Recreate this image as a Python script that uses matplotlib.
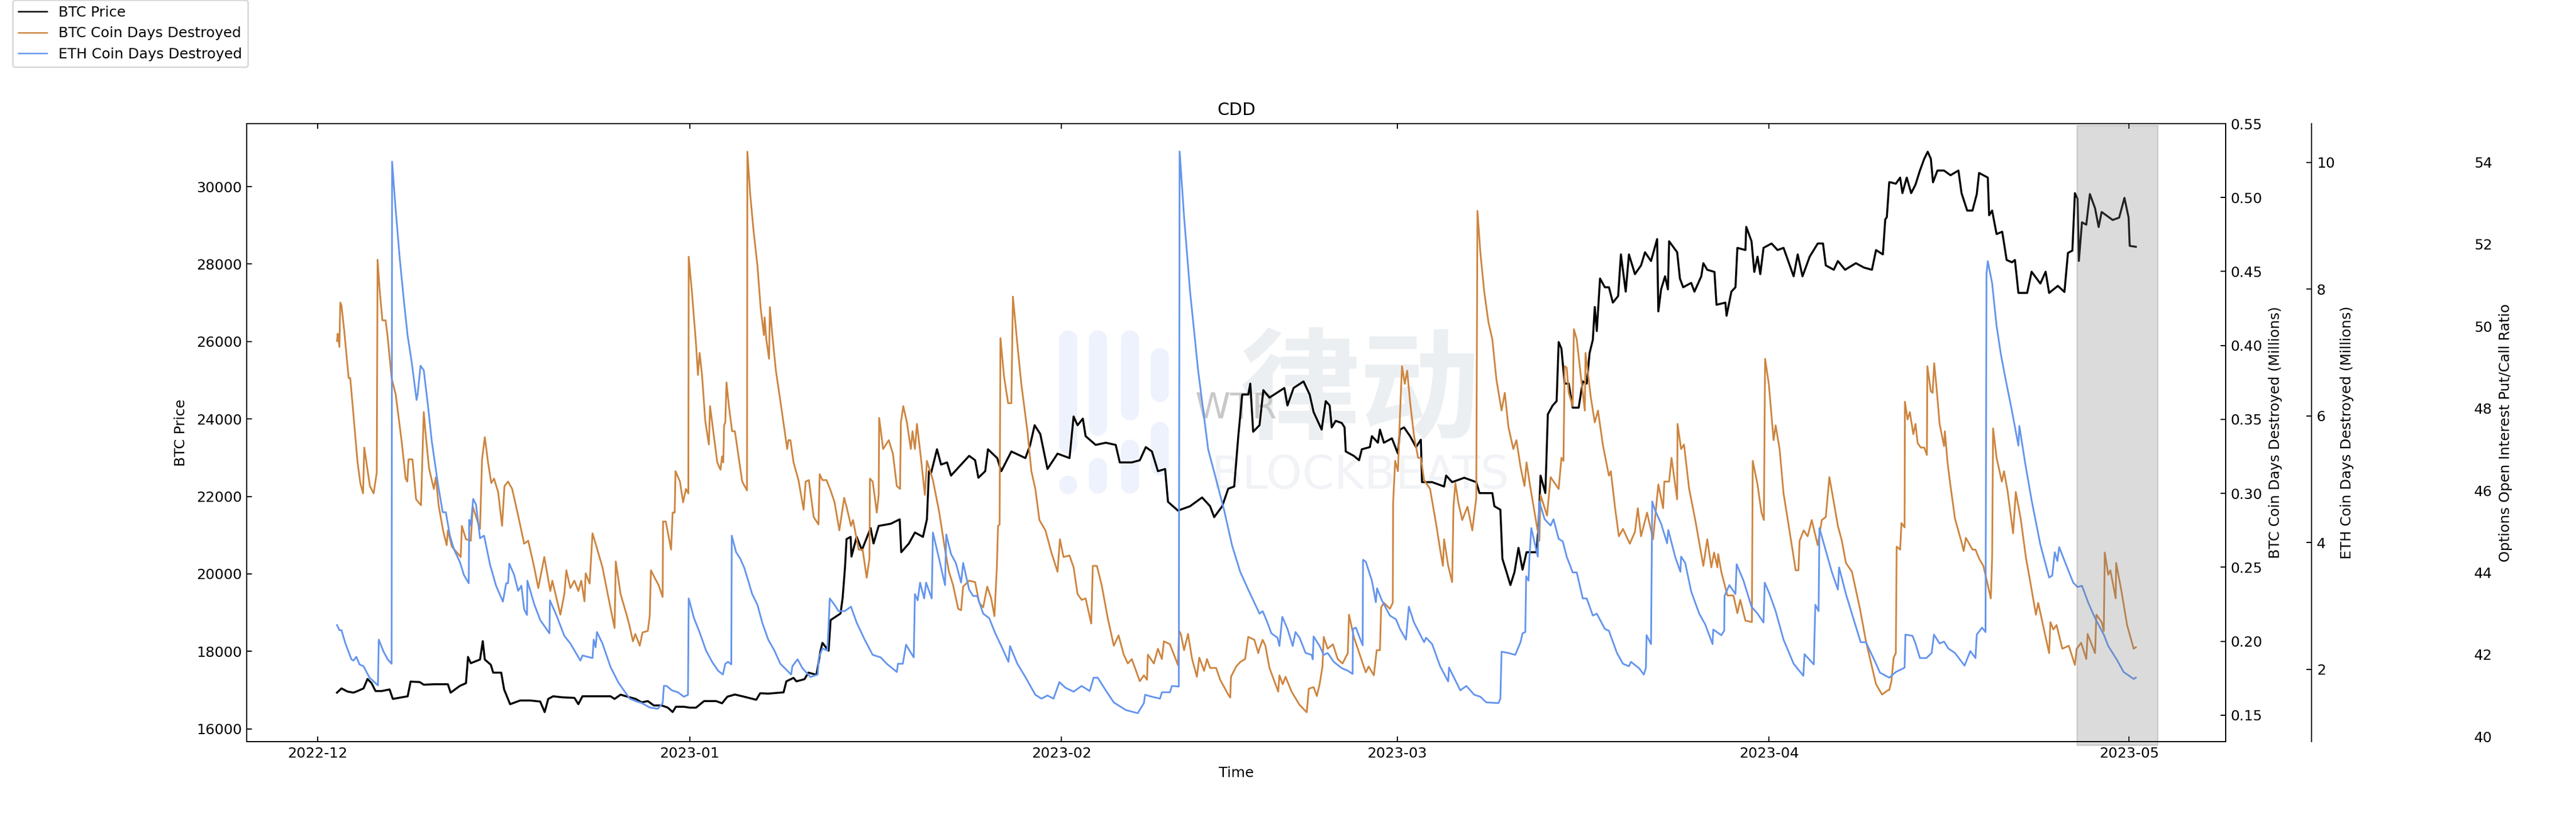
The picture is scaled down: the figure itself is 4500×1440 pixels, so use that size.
import pandas as pd
import matplotlib
matplotlib.use('Agg')
import matplotlib.pyplot as plt
import matplotlib.dates as mdates
from matplotlib.lines import Line2D

# all x values are days counted from 2022-12-01
price_days = [
    1.61, 1.98, 2.48, 2.98, 3.32, 3.82, 4.15, 4.49, 4.82, 5.33,
    5.99, 6.26, 7.0, 7.5, 7.74, 8.51, 8.84, 9.68, 10.85, 11.08,
    11.86, 12.36, 12.53, 12.76, 13.53, 13.76, 13.93, 14.43, 14.63, 15.3,
    15.54, 15.77, 16.04, 16.88, 17.72, 18.55, 18.92, 19.22, 19.63, 20.4,
    21.4, 21.73, 22.07, 23.07, 24.41, 24.75, 25.25, 26.02,
    26.51, 27.01, 27.52, 28.02, 28.69, 29.19, 29.59, 29.86, 30.53, 31.03,
    31.54, 32.21, 33.21, 33.71, 34.15, 34.78, 35.55, 36.56, 36.89, 37.56,
    38.84, 39.07, 39.67, 39.91, 40.58, 40.91, 41.58, 41.92, 42.08, 42.59,
    42.76, 43.59, 43.76, 43.96, 44.09, 44.43, 44.5, 44.93, 45.37, 46.1,
    46.34, 46.77, 47.78, 48.52, 48.65, 49.29, 49.79, 50.46, 50.79, 50.96,
    51.13, 51.63, 51.97, 52.47, 52.8, 53.81, 54.31, 54.81, 55.08, 55.65,
    55.88, 56.65, 56.99, 57.83, 59.0, 59.4, 59.77, 60.24, 60.84, 61.68,
    62.68, 63.02, 63.35, 63.79, 64.02, 64.86, 65.7, 66.53, 66.87, 67.37,
    67.87, 68.54, 69.04, 69.55, 70.05, 70.65, 70.89, 71.72, 72.73, 73.73,
    74.4, 74.74, 75.41, 75.91, 76.41, 76.75, 77.08, 77.58, 77.75, 77.99,
    78.52,
    78.84, 79.35, 80.02, 80.59, 80.85, 81.36, 82.19, 82.70, 83.03,
    83.7, 84.04, 84.37, 84.54, 84.87, 85.38, 85.61, 85.71, 86.38, 86.82,
    87.05, 87.72, 87.89, 88.39, 88.56, 88.89, 89.56, 90.06, 90.23, 90.57,
    91.07, 91.57, 91.97, 92.07, 92.91, 93.91, 94.08, 94.58, 95.59, 96.59,
    96.86, 97.93, 98.1, 98.6, 98.77, 99.11, 99.44, 99.78, 100.11, 100.45,
    100.78, 101.62, 101.79, 101.95, 102.35, 102.56, 102.96, 103.29, 103.46, 103.69,
    103.96, 104.3, 104.63, 105.13, 105.47, 105.8, 106.04, 106.31, 106.47, 106.64,
    106.91, 107.31, 107.65, 107.98, 108.42, 108.65, 109.05, 109.32, 109.82, 110.33,
    110.66, 111.16, 111.67, 111.77, 112.0, 112.33, 112.57, 112.67, 113.34, 113.57,
    113.84, 114.51, 114.78, 115.35, 115.52, 115.85, 116.45, 116.62, 117.36, 117.46,
    117.86, 118.2, 118.36, 119.03, 119.1, 119.54, 119.77, 120.04, 120.27, 120.54,
    121.21, 121.71, 122.21, 123.05, 123.39, 123.79, 124.39, 125.06, 125.5, 125.73,
    126.4, 126.74, 127.34, 128.24, 128.91, 129.58, 129.92, 130.49, 130.69, 130.82,
    131.02,
    131.13, 131.57, 131.93, 132.12, 132.48, 132.85, 133.21, 133.58, 133.94, 134.23,
    134.49, 134.67, 135.04, 135.59, 136.13, 136.79, 137.05, 137.52, 137.96, 138.32,
    138.51, 139.24, 139.35, 139.6, 139.97, 140.44, 140.81, 141.25, 141.5, 141.79,
    142.52, 142.89, 143.62, 144.06, 144.35, 145.08, 145.63, 145.92, 146.29, 146.5,
    146.72, 146.83, 147.09, 147.45, 147.75, 148.18, 148.48, 148.73, 149.65, 150.19,
    150.63, 150.98, 151.07, 151.58,
]
price_vals = [
    16936, 17045, 16964, 16936, 16977, 17045, 17289, 17180, 16977, 16977,
    17018, 16774, 16815, 16842, 17221, 17208, 17140, 17153, 17153, 16936,
    17112, 17180, 17858, 17696, 17791, 18266, 17791, 17655, 17452, 17452,
    17018, 16842, 16638, 16733, 16733, 16706, 16434, 16774, 16842, 16815,
    16801, 16638, 16842, 16842, 16842, 16774, 16883, 16815,
    16774, 16684, 16718, 16605, 16605, 16548, 16435, 16571, 16571, 16548,
    16548, 16718, 16718, 16661, 16831, 16887, 16831, 16752, 16921, 16910,
    16944, 17227, 17317, 17227, 17283, 17453, 17396, 18018, 18221, 18018,
    18809, 18979, 19374, 20166, 20900, 20957, 20448, 20957, 20618, 21183,
    20787, 21240, 21296, 21409, 20561, 20787, 21070, 20957, 21409, 22652,
    22596, 23218, 22822, 22879, 22539, 22879, 23048, 22935, 22483, 22652,
    23218, 22991, 22652, 23161, 22991, 23331, 23839, 23613, 22709, 23105,
    22991, 24065, 23839, 24009, 23557, 23331, 23387, 23331, 22879, 22879,
    22879, 22935, 23274, 23161, 22652, 22709, 21861, 21635, 21748, 21974,
    21748, 21465, 21748, 22200, 22257, 23557, 24631, 24631, 24913, 23670,
    23839,
    24744, 24552, 24687, 24800, 24348, 24800, 24970, 24631, 24178,
    23726, 24461, 24348, 23783, 23952, 23896, 23783, 23161, 23048, 22935,
    23218, 23274, 23557, 23387, 23726, 23387, 23500, 23105, 23726, 23783,
    23557, 23274, 23466, 22370, 22370, 22257, 22539, 22370, 22483, 22370,
    22087, 22087, 21748, 21658, 20392, 20051, 19713, 20051, 20674, 20109,
    20561, 20561, 21296, 22539, 22087, 24122, 24348, 24461, 25987, 25818,
    24913, 24913, 24292, 24292, 24970, 24913, 25705, 26044, 26891, 26270,
    27626, 27400, 27400, 27004, 27174, 28248, 27287, 28248, 27739, 27965,
    28304, 28078, 28644, 26778, 27344, 27683, 27344, 28587, 28304, 27626,
    27400, 27513, 27287, 27683, 28022, 27852, 27796, 26948, 27004, 26665,
    27287, 27400, 28417, 28361, 28960, 28587, 27796, 28191, 27739, 28417,
    28530, 28361, 28417, 27683, 28248, 27683, 28191, 28530, 28530, 27965,
    27852, 28078, 27852, 28022, 27909, 27852, 28361, 28248, 29152, 29209,
    30113,
    30109, 30073, 30231, 29830, 30231, 29830, 30049, 30413, 30717, 30899,
    30717, 30109, 30413, 30413, 30292, 30413, 29830, 29380, 29380, 29806,
    30352, 30231, 29259, 29380, 28773, 28834, 28105, 28044, 28105, 27254,
    27254, 27801, 27497, 27801, 27254, 27436, 27278, 28287, 28347, 29830,
    29684, 28080, 29077, 29016, 29806, 29441, 28955, 29344, 29137, 29198,
    29708, 29198, 28469, 28445,
]

btc_cdd_days = [
    1.61, 1.67, 1.81, 1.88, 1.98, 2.21, 2.38, 2.58, 2.71, 2.98,
    3.32, 3.55, 3.78, 3.88, 4.15, 4.35, 4.66, 4.92, 4.99, 5.16,
    5.39, 5.66, 5.83, 6.16, 6.50, 7.0, 7.33, 7.47, 7.57, 7.90,
    8.2, 8.61, 8.84, 9.01, 9.28, 9.68, 9.85, 10.08, 10.45, 10.75,
    10.85, 11.19, 11.92, 12.02, 12.36, 12.76, 12.93, 13.53, 13.70, 13.93,
    14.2, 14.47, 14.7, 15.04, 15.37, 15.57, 15.87, 16.21, 16.71, 17.21,
    17.55, 18.05, 18.39, 18.89, 19.39, 19.56, 20.23, 20.56, 20.73, 21.06,
    21.4, 21.73, 21.97, 22.24, 22.34, 22.67, 22.91, 23.24, 23.74, 24.25,
    24.75, 24.85, 25.25, 25.75,
    26.01, 26.28, 26.48, 26.85, 27.08, 27.52, 27.68, 27.78, 28.09, 28.42,
    28.76, 28.79, 29.02, 29.46, 29.59, 29.76, 29.83, 30.2, 30.46, 30.7,
    30.9, 30.93, 31.2, 31.54, 31.7, 31.84, 32.04, 32.31, 32.61, 32.71,
    32.98, 33.31, 33.58, 33.71, 33.81, 33.88, 33.98, 34.08, 34.28, 34.55,
    34.78, 35.05, 35.39, 35.79, 35.82, 36.06, 36.33, 36.66, 36.93, 37.2,
    37.26, 37.4, 37.63, 37.7, 37.9, 38.2, 38.47, 38.74, 39.14, 39.24,
    39.41, 39.67, 40.08, 40.51, 40.68, 40.95, 41.35, 41.75, 41.85, 42.08,
    42.42, 42.76, 43.09, 43.49, 43.89, 44.09, 44.46, 44.63, 45.1, 45.43,
    45.77, 46.0, 46.04, 46.27, 46.61, 46.77, 46.81, 47.14, 47.61, 47.95,
    48.28, 48.55, 48.62, 48.82, 49.12, 49.45, 49.59, 49.79, 49.96, 50.29,
    50.62, 50.79, 51.29, 51.8, 52.3, 52.63, 52.97, 53.4, 53.64, 53.81,
    54.31, 54.81, 55.15, 55.48, 55.82, 56.15, 56.42, 56.62, 56.72, 56.85,
    56.92, 57.22, 57.56, 57.83, 57.96, 58.33, 58.66, 59.17, 59.5, 59.83,
    60.17, 60.67, 61.17, 61.68, 61.88, 62.18, 62.68, 63.02, 63.35, 63.69,
    64.02, 64.49, 64.62, 64.96, 65.36, 65.86, 66.37, 66.77, 67.2, 67.54,
    67.87, 68.54, 68.88, 69.14, 69.21, 69.71, 70.05, 70.38, 70.55, 71.05,
    71.72, 71.82, 71.96, 72.23, 72.56, 72.9, 73.3, 73.5, 73.9, 74.14,
    74.4, 74.9, 75.24, 75.91, 76.08, 76.14, 76.58, 76.91, 77.32, 77.58,
    78.09, 78.42,
    78.51, 78.78, 79.01, 79.35, 79.85, 80.08, 80.18, 80.45, 80.69, 81.19,
    81.86, 82.46, 82.63, 83.03, 83.3, 83.53, 83.77, 83.87, 84.2, 84.64,
    85.04, 85.44, 85.88, 85.98, 86.38, 86.88, 87.38, 87.62, 88.05, 88.29,
    88.56, 88.66, 88.89, 89.39, 89.63, 89.66, 89.83, 90.06, 90.23, 90.4,
    90.63, 90.83, 91.07, 91.4, 91.74, 91.97, 92.24, 92.74, 93.25, 93.58,
    93.81, 93.91, 94.25, 94.58, 94.69, 94.85, 95.09, 95.42, 95.86, 96.26,
    96.59, 96.69, 96.93, 97.26, 97.6, 97.93, 98.27, 98.7, 98.97, 99.27,
    99.68, 99.94, 100.28, 100.61, 100.78, 101.12, 101.62, 101.85, 101.95, 102.49,
    102.79, 103.46, 103.69, 103.86, 103.96, 104.13, 104.3, 104.63, 104.73, 104.97,
    105.3, 105.64, 105.7, 106.14, 106.47, 106.74, 107.14, 107.65, 107.81, 108.15,
    108.48, 108.82, 109.39, 109.82, 110.06, 110.33, 110.83, 111.33, 111.77, 112.17,
    112.27, 112.67, 112.87, 113.34, 113.37, 113.67, 113.91, 114.34, 114.85, 115.52,
    115.85, 116.19, 116.42, 116.69, 116.76, 117.02, 117.53, 118.03, 118.36, 118.6,
    119.03, 119.57, 119.64, 120.04, 120.37, 120.57, 120.67, 120.98, 121.38, 121.55,
    121.88, 122.21, 122.72, 123.22, 123.45, 123.55, 123.89, 124.22, 124.56, 125.06,
    125.4, 125.73, 126.03, 126.4, 126.74, 127.07, 127.41, 127.91, 128.58, 129.08,
    129.92, 130.42, 130.92,
    131.02, 131.2, 131.39, 131.57, 131.64, 131.93, 132.04, 132.3, 132.33, 132.55,
    132.74, 133.03, 133.21, 133.39, 133.65, 133.94, 134.16, 134.2, 134.49, 134.64,
    134.77, 134.96, 135.22, 135.59, 135.66, 135.88, 136.13, 136.5, 137.05, 137.23,
    137.41, 137.96, 138.21, 138.51, 138.87, 139.24, 139.49, 139.6, 139.68, 139.97,
    140.41, 140.59, 140.88, 141.35, 141.57, 141.98, 142.41, 142.89, 143.25, 143.44,
    143.87, 144.35, 144.46, 144.71, 144.97, 145.45, 145.99, 146.5, 146.65, 147.02,
    147.45, 147.56, 148.18, 148.29, 148.73, 148.91, 148.99, 149.28, 149.46, 149.9,
    149.94, 150.38, 150.85, 151.4, 151.58,
]
btc_cdd_vals = [
    .403, .408, .399, .429, .427, .410, .395, .378, .378, .353,
    .321, .307, .300, .331, .316, .305, .300, .314, .458, .438,
    .417, .417, .406, .378, .367, .335, .310, .308, .323, .323,
    .296, .292, .355, .339, .317, .303, .311, .292, .275, .265,
    .275, .264, .257, .278, .269, .268, .291, .276, .323, .338,
    .321, .307, .310, .301, .278, .305, .308, .303, .285, .266,
    .268, .250, .236, .257, .234, .241, .218, .232, .248, .236,
    .241, .234, .241, .227, .246, .239, .273, .264, .250, .229,
    .209, .254, .232, .218,
    .210, .200, .205, .197, .206, .207, .217, .248, .243, .238,
    .230, .281, .281, .262, .287, .287, .315, .308, .294, .303,
    .300, .460, .436, .401, .380, .395, .380, .349, .333, .359,
    .342, .321, .316, .325, .321, .346, .348, .375, .359, .342,
    .342, .327, .308, .302, .531, .502, .478, .454, .425, .407,
    .419, .404, .391, .426, .407, .383, .368, .353, .330, .336,
    .336, .321, .309, .289, .308, .309, .284, .279, .313, .309,
    .309, .302, .294, .275, .297, .291, .278, .282, .262, .262,
    .243, .256, .310, .308, .287, .299, .351, .330, .336, .327,
    .305, .303, .348, .359, .348, .330, .342, .330, .347, .324,
    .299, .322, .309, .288, .262, .247, .238, .222, .221, .237,
    .241, .240, .226, .223, .237, .229, .217, .250, .278, .279,
    .405, .379, .361, .361, .433, .401, .374, .342, .315, .303,
    .282, .275, .260, .247, .269, .257, .258, .250, .232, .228,
    .229, .212, .251, .251, .238, .216, .197, .204, .191, .185,
    .188, .173, .177, .174, .191, .185, .195, .188, .200, .198,
    .184, .207, .205, .194, .205, .188, .176, .189, .180, .188,
    .182, .182, .174, .164, .162, .176, .183, .186, .188, .203,
    .201, .192,
    .195, .201, .197, .182, .171, .166, .177, .171, .176, .166,
    .157, .152, .168, .169, .163, .171, .183, .203, .195, .198,
    .188, .185, .192, .218, .203, .191, .179, .183, .177, .194,
    .194, .223, .226, .222, .226, .294, .322, .315, .353, .386,
    .374, .383, .362, .339, .324, .324, .309, .303, .279, .262,
    .251, .269, .251, .240, .291, .307, .294, .282, .291, .275,
    .297, .491, .463, .436, .416, .404, .377, .356, .368, .345,
    .330, .336, .318, .305, .321, .303, .279, .268, .299, .285,
    .311, .303, .324, .322, .386, .385, .368, .359, .411, .404,
    .380, .356, .395, .365, .348, .356, .333, .312, .315, .291,
    .271, .276, .266, .274, .290, .271, .287, .269, .306, .290,
    .308, .308, .324, .296, .347, .330, .333, .303, .282, .251,
    .269, .250, .260, .250, .259, .247, .231, .231, .219, .228,
    .214, .213, .322, .306, .287, .282, .391, .374, .336, .346,
    .330, .300, .274, .248, .248, .268, .275, .271, .282, .265,
    .282, .284, .311, .294, .278, .268, .253, .247, .222, .200,
    .171, .164, .167,
    .167, .173, .189, .192, .264, .262, .280, .277, .362, .350,
    .355, .340, .347, .334, .331, .331, .326, .386, .369, .368,
    .388, .372, .347, .332, .342, .321, .305, .283, .267, .261,
    .270, .262, .262, .256, .251, .238, .229, .257, .344, .324,
    .308, .315, .302, .273, .301, .283, .257, .235, .218, .226,
    .210, .192, .213, .208, .211, .195, .197, .184, .195, .199,
    .188, .205, .192, .218, .213, .207, .260, .245, .248, .229,
    .253, .234, .211, .195, .196,
]

eth_cdd_days = [
    1.61, 1.81, 1.98, 2.31, 2.81, 2.98, 3.22, 3.48, 3.82, 4.32,
    5.02, 5.09, 5.49, 5.83, 6.16, 6.2, 6.5, 6.83, 7.17, 7.5,
    7.84, 8.24, 8.34, 8.57, 8.84, 9.18, 9.51, 10.01, 10.42, 10.68,
    11.02, 11.35, 11.86, 12.19, 12.59, 12.63, 12.76, 12.96, 13.2, 13.53,
    13.87, 14.37, 14.87, 15.44, 15.71, 15.87, 15.97, 16.38, 16.71, 16.98,
    17.21, 17.45, 17.48, 18.05, 18.55, 19.32, 19.36, 19.89, 20.56, 21.06,
    21.9, 22.07, 22.91, 23.01, 23.17, 23.28, 23.74, 24.41, 25.08,
    26.01, 26.51, 27.01, 27.68, 28.35, 28.76, 28.86, 29.09, 29.53, 30.03,
    30.53, 30.87, 30.93, 31.37, 31.87, 32.37, 32.88, 33.38, 33.78, 33.98,
    34.21, 34.48, 34.52, 34.88, 35.22, 35.55, 35.89, 36.22, 36.66, 37.06,
    37.56, 38.07, 38.57, 39.47, 39.57, 40.01, 40.41, 41.08, 41.68, 41.78,
    42.08, 42.49, 42.59, 42.69, 43.09, 43.42, 43.93, 44.46, 44.93, 45.6,
    46.27, 46.94, 47.44, 48.28, 48.38, 48.78, 49.05, 49.69, 49.79, 50.02,
    50.22, 50.56, 50.72, 51.19, 51.29, 51.8, 52.3, 52.4, 52.8, 53.2,
    53.64, 53.81, 54.31, 54.64, 54.98, 55.48, 55.98, 56.49, 56.99, 57.59,
    57.72, 58.33, 59.0, 59.83, 60.34, 60.84, 61.34, 61.84, 62.35, 63.02,
    63.69, 64.36, 64.69, 65.03, 65.7, 66.37, 67.37, 68.37, 68.88, 68.98,
    69.55, 70.22, 70.38, 71.05, 71.22, 71.79, 71.86, 72.23, 72.73, 73.4,
    74.24, 74.91, 75.57, 76.24, 76.91, 77.58, 78.52,
    78.78, 79.18, 79.51, 80.02, 80.18, 80.42, 80.85, 81.29, 81.52, 81.86,
    82.36, 82.86, 82.96, 83.03, 83.53, 83.87, 84.2, 84.71, 85.38, 85.88,
    86.28, 86.31, 86.55, 87.12, 87.15, 87.38, 87.89, 88.22, 88.32, 88.72,
    89.39, 89.9, 90.23, 90.73, 90.97, 91.4, 92.24, 92.41, 92.91, 93.58,
    94.25, 94.32, 95.26, 95.76, 96.43, 96.93, 97.43, 98.44, 98.6, 98.7,
    99.27, 99.84, 100.28, 100.45, 100.68, 100.75, 100.95, 101.02, 101.18, 101.72,
    101.85, 102.29, 102.79, 103.03, 103.46, 103.8, 104.13, 104.63, 104.97, 105.47,
    105.8, 106.31, 106.64, 107.31, 107.65, 108.32, 108.82, 109.32, 109.49, 110.16,
    110.56, 110.73, 110.79, 111.16, 111.26, 111.5, 112.0, 112.5, 112.6, 113.17,
    113.61, 113.67, 114.01, 114.51, 115.18, 115.68, 116.29, 116.35, 117.02, 117.26,
    117.29, 117.69, 118.2, 118.3, 118.87, 119.54, 120.04, 120.54, 120.64, 121.04,
    121.55, 122.21, 123.05, 123.86, 123.96, 124.73, 124.86, 125.13, 125.2, 125.56,
    126.23, 126.74, 126.84, 127.41, 128.07, 128.64, 129.08, 129.75, 130.25, 131.02,
    131.57, 132.12, 132.3, 132.37, 132.96, 133.21, 133.58, 134.12, 134.56, 134.75,
    135.22, 135.59, 135.95, 136.5, 137.3, 137.78, 138.21, 138.32, 138.76, 139.05,
    139.13, 139.24, 139.6, 139.97, 140.33, 140.7, 141.25, 141.79, 141.87, 142.34,
    142.89, 143.62, 144.35, 144.61, 144.82, 145.04, 145.19, 145.81, 146.36, 146.72,
    147.09, 147.64, 148.18, 148.91, 149.28, 150.01, 150.56, 151.4, 151.58,
]
eth_cdd_vals = [
    2.70, 2.62, 2.62, 2.41, 2.16, 2.14, 2.20, 2.08, 2.05, 1.87,
    1.75, 2.47, 2.28, 2.16, 2.09, 10.01, 9.25, 8.50, 7.84, 7.26,
    6.84, 6.25, 6.35, 6.79, 6.72, 6.18, 5.60, 4.94, 4.48, 4.48,
    4.11, 3.90, 3.69, 3.49, 3.36, 4.36, 4.27, 4.69, 4.60, 4.07,
    4.11, 3.65, 3.32, 3.07, 3.36, 3.36, 3.67, 3.49, 3.24, 3.32,
    2.95, 2.86, 3.40, 3.03, 2.78, 2.57, 3.09, 2.86, 2.53, 2.41,
    2.14, 2.22, 2.18, 2.47, 2.35, 2.59, 2.41, 2.04, 1.79,
    1.54, 1.50, 1.47, 1.40, 1.38, 1.47, 1.74, 1.74, 1.67, 1.64,
    1.57, 1.60, 3.12, 2.81, 2.57, 2.30, 2.12, 1.98, 1.92, 2.09,
    2.12, 2.08, 4.11, 3.85, 3.75, 3.61, 3.40, 3.19, 3.02, 2.74,
    2.47, 2.30, 2.09, 1.92, 2.05, 2.16, 2.02, 1.88, 1.92, 2.19,
    2.33, 2.30, 2.68, 3.12, 3.02, 2.92, 2.92, 2.99, 2.74, 2.47,
    2.23, 2.19, 2.09, 1.96, 2.09, 2.09, 2.39, 2.19, 3.19, 3.09,
    3.37, 3.12, 3.37, 3.12, 4.16, 3.75, 3.33, 4.13, 3.82, 3.68,
    3.37, 3.68, 3.26, 3.16, 3.16, 2.88, 2.81, 2.57, 2.37, 2.12,
    2.37, 2.09, 1.88, 1.60, 1.54, 1.59, 1.54, 1.80, 1.71, 1.65,
    1.74, 1.66, 1.87, 1.87, 1.67, 1.48, 1.36, 1.31, 1.47, 1.60,
    1.57, 1.54, 1.64, 1.64, 1.74, 1.73, 10.17, 9.14, 7.96, 6.72,
    5.47, 4.99, 4.51, 3.95, 3.54, 3.26, 2.88,
    2.92, 2.74, 2.57, 2.50, 2.37, 2.83, 2.64, 2.37, 2.59, 2.50,
    2.26, 2.23, 2.16, 2.52, 2.37, 2.23, 2.26, 2.12, 2.02, 1.98,
    1.93, 2.64, 2.66, 2.38, 3.73, 3.70, 3.40, 3.06, 3.28, 3.09,
    2.85, 2.79, 2.64, 2.47, 2.99, 2.74, 2.43, 2.50, 2.40, 2.05,
    1.81, 2.03, 1.67, 1.74, 1.60, 1.57, 1.48, 1.47, 1.54, 2.28,
    2.26, 2.23, 2.43, 2.57, 2.59, 3.47, 3.40, 3.75, 4.23, 3.78,
    4.65, 4.37, 4.27, 4.37, 4.06, 4.02, 3.78, 3.53, 3.53, 3.12,
    3.12, 2.85, 2.88, 2.64, 2.61, 2.26, 2.09, 2.05, 2.12, 2.02,
    1.92, 2.02, 2.54, 2.40, 4.65, 4.51, 4.30, 3.99, 4.20, 3.78,
    3.54, 3.78, 3.68, 3.23, 2.88, 2.71, 2.40, 2.63, 2.54, 2.61,
    3.16, 3.33, 3.19, 3.66, 3.40, 2.99, 2.88, 2.74, 3.37, 3.19,
    2.92, 2.47, 2.09, 1.90, 2.24, 2.08, 3.02, 2.92, 4.23, 3.99,
    3.54, 3.26, 3.61, 3.19, 2.78, 2.43, 2.43, 2.16, 1.95, 1.87,
    1.96, 2.01, 2.03, 2.55, 2.53, 2.41, 2.18, 2.18, 2.26, 2.55,
    2.41, 2.44, 2.33, 2.26, 2.06, 2.29, 2.18, 2.55, 2.66, 2.59,
    8.24, 8.44, 8.09, 7.42, 6.97, 6.60, 6.08, 5.53, 5.84, 5.27,
    4.67, 3.97, 3.45, 3.48, 3.85, 3.71, 3.93, 3.63, 3.37, 3.30,
    3.32, 3.04, 2.81, 2.55, 2.37, 2.15, 1.96, 1.85, 1.87,
]

price_ticks = list(range(16000, 30001, 2000))
btc_ticks = [0.15, 0.20, 0.25, 0.30, 0.35, 0.40, 0.45, 0.50, 0.55]
eth_ticks = [2, 4, 6, 8, 10]
ratio_ticks = [40, 42, 44, 46, 48, 50, 52, 54]
highlight_days = [146.66, 153.37]

start = pd.Timestamp('2022-12-01')


def to_dates(days):
    return start + pd.to_timedelta(days, unit='D')


W, H = 4500, 1440
L, R, T, B = 431.4, 3888.0, 216.0, 1296.0


def fx(px):
    return px / W


def fy(py):
    return 1 - py / H


fig = plt.figure(figsize=(25, 8), dpi=180)
ax = fig.add_axes([fx(L), fy(B), (R - L) / W, (B - T) / H])
ax2 = ax.twinx()
ax3 = ax.twinx()
ax4 = ax.twinx()

# faint logo behind the lines
logo_color = '#EEF2FC'
for x, y0, y1 in [(1866, 593, 777), (1866, 847, 848), (1918, 593, 746), (1918, 816, 847),
                  (1974, 593, 719), (1974, 784, 847), (2026, 624, 687), (2026, 753, 815)]:
    ax.add_line(Line2D([fx(x), fx(x)], [fy(y0), fy(y1)], transform=fig.transFigure, color=logo_color,
                       lw=12.6, solid_capstyle='round', clip_on=False, zorder=1))
ax.text(fx(2376), fy(688), '律动', transform=fig.transFigure, fontsize=84, color='#ECEFF2', fontweight='bold',
        family=['Noto Sans CJK SC', 'DejaVu Sans'], ha='center', va='center', zorder=1)
ax.text(fx(2376), fy(832), 'BLOCKBEATS', transform=fig.transFigure, fontsize=32, color='#F1F3F6',
        ha='center', va='center', zorder=1)
ax.text(fx(2160), fy(715), 'WTR', transform=fig.transFigure, fontsize=25, color='#C8C8C8',
        ha='center', va='center', zorder=1)

ax.plot(to_dates(price_days), price_vals, color='black', lw=1.4)
ax2.plot(to_dates(btc_cdd_days), btc_cdd_vals, color='peru', lw=1.2)
ax3.plot(to_dates(eth_cdd_days), eth_cdd_vals, color='cornflowerblue', lw=1.2)

ax.set_xlim(to_dates(-5.9), to_dates(159.07))
ax.xaxis.set_major_locator(mdates.MonthLocator())
ax.xaxis.set_major_formatter(mdates.DateFormatter('%Y-%m'))
ax.tick_params(axis='both', direction='in', top=True, labelsize=10)

ax.set_ylim(15672, 31625)
ax.set_yticks(price_ticks)
ax2.set_ylim(0.1322, 0.55)
ax2.set_yticks(btc_ticks)
ax2.set_yticklabels([f'{v:.2f}' for v in btc_ticks])
ax3.set_ylim(0.862, 10.61)
ax3.set_yticks(eth_ticks)
ax4.set_ylim(39.88, 54.94)
ax4.set_yticks(ratio_ticks)

ax2.tick_params(axis='y', direction='in', labelsize=10)
ax3.tick_params(axis='y', direction='in', labelsize=10)
ax3.spines['right'].set_position(('outward', 60))
ax4.spines['right'].set_position(('outward', 170))
ax4.spines['right'].set_visible(False)
ax4.tick_params(axis='y', length=0, labelsize=10)

ax.set_title('CDD', fontsize=12)
ax.set_xlabel('Time', fontsize=10)
ax.set_ylabel('BTC Price', fontsize=10, va='center')
ax2.set_ylabel('BTC Coin Days Destroyed (Millions)', fontsize=10, va='center')
ax3.set_ylabel('ETH Coin Days Destroyed (Millions)', fontsize=10, va='center')
ax4.set_ylabel('Options Open Interest Put/Call Ratio', fontsize=10, va='center')
ax.yaxis.set_label_coords((316 - L) / (R - L), 0.5)
ax2.yaxis.set_label_coords((3975 - L) / (R - L), 0.5)
ax3.yaxis.set_label_coords((4100 - L) / (R - L), 0.5)
ax4.yaxis.set_label_coords((4377 - L) / (R - L), 0.5)

ax4.axvspan(to_dates(highlight_days[0]), to_dates(highlight_days[1]),
            ymin=(B - 1302) / (B - T), ymax=(B - 219) / (B - T),
            color='gray', alpha=0.28, clip_on=False)

handles = [Line2D([], [], color='black', lw=1), Line2D([], [], color='peru', lw=1),
           Line2D([], [], color='cornflowerblue', lw=1)]
fig.legend(handles, ['BTC Price', 'BTC Coin Days Destroyed', 'ETH Coin Days Destroyed'],
           loc='upper left', bbox_to_anchor=(fx(22), 1), borderaxespad=0, fontsize=10)

fig.savefig('out.png', dpi=180)
plt.close(fig)
